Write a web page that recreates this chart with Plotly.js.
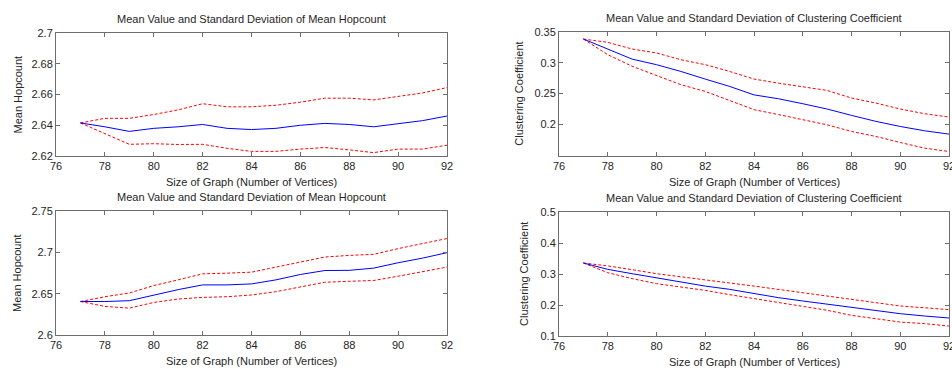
<!DOCTYPE html>
<html>
<head>
<meta charset="utf-8">
<script src="https://cdn.plot.ly/plotly-3.0.1.min.js"></script>
<style>html,body{margin:0;padding:0;background:#fff;} #chart{width:952px;height:369px;}</style>
</head>
<body>
<div id="chart"></div>
<script>
// Graph sizes (number of vertices)
const sizes = [77, 78, 79, 80, 81, 82, 83, 84, 85, 86, 87, 88, 89, 90, 91, 92];

// Panel 1 (top-left): Mean hopcount
const hop1Mean  = [2.6415, 2.639, 2.636, 2.638, 2.639, 2.6405, 2.638, 2.6372, 2.638, 2.640, 2.6412, 2.6405, 2.639, 2.641, 2.643, 2.646];
const hop1Upper = [2.6415, 2.6445, 2.6445, 2.647, 2.650, 2.654, 2.652, 2.652, 2.653, 2.655, 2.6576, 2.6576, 2.6565, 2.659, 2.661, 2.6645];
const hop1Lower = [2.6415, 2.6348, 2.6276, 2.628, 2.6275, 2.6276, 2.625, 2.623, 2.623, 2.6245, 2.6255, 2.624, 2.6222, 2.6245, 2.6245, 2.627];

// Panel 2 (top-right): Clustering coefficient
const cc1Mean  = [0.3386, 0.3224, 0.306, 0.297, 0.286, 0.2736, 0.2617, 0.248, 0.2417, 0.2336, 0.225, 0.2147, 0.205, 0.1967, 0.1897, 0.1843];
const cc1Upper = [0.3386, 0.3332, 0.3224, 0.316, 0.305, 0.297, 0.286, 0.2736, 0.267, 0.2617, 0.2552, 0.2428, 0.2347, 0.225, 0.2174, 0.212];
const cc1Lower = [0.3386, 0.3132, 0.2944, 0.279, 0.2645, 0.2536, 0.239, 0.224, 0.216, 0.2075, 0.1994, 0.1886, 0.1805, 0.1707, 0.1615, 0.1561];

// Panel 3 (bottom-left): Mean hopcount
const hop2Mean  = [2.6405, 2.6405, 2.6415, 2.6484, 2.6549, 2.6606, 2.6606, 2.6618, 2.6667, 2.6732, 2.678, 2.6782, 2.6809, 2.6874, 2.693, 2.6996];
const hop2Upper = [2.6405, 2.6463, 2.6508, 2.6598, 2.6667, 2.674, 2.6748, 2.676, 2.6821, 2.6882, 2.6943, 2.6963, 2.6976, 2.7045, 2.7106, 2.7167];
const hop2Lower = [2.6405, 2.6346, 2.6325, 2.6394, 2.6435, 2.6455, 2.6463, 2.6484, 2.6524, 2.6577, 2.6638, 2.665, 2.6659, 2.6711, 2.6768, 2.6821];

// Panel 4 (bottom-right): Clustering coefficient
const cc2Mean  = [0.3355, 0.315, 0.301, 0.287, 0.274, 0.261, 0.2505, 0.2366, 0.2237, 0.213, 0.2022, 0.1914, 0.1806, 0.172, 0.1645, 0.158];
const cc2Upper = [0.3355, 0.326, 0.314, 0.301, 0.291, 0.280, 0.271, 0.261, 0.2505, 0.2398, 0.228, 0.218, 0.2076, 0.1968, 0.191, 0.185];
const cc2Lower = [0.3355, 0.3043, 0.285, 0.2688, 0.258, 0.2473, 0.2333, 0.2205, 0.2075, 0.1968, 0.183, 0.1667, 0.156, 0.145, 0.1398, 0.132];

// Labels
const panelTitles = [
  "Mean Value and Standard Deviation of Mean Hopcount",
  "Mean Value and Standard Deviation of Clustering Coefficient",
  "Mean Value and Standard Deviation of Mean Hopcount",
  "Mean Value and Standard Deviation of Clustering Coefficient"
];
const xLabel = "Size of Graph (Number of Vertices)";
const yLabels = ["Mean Hopcount", "Clustering Coefficient", "Mean Hopcount", "Clustering Coefficient"];

const W = 952, H = 369;
const px = v => v / W, py = v => 1 - v / H;

const panels = [
  {mean: hop1Mean, up: hop1Upper, lo: hop1Lower, x0: 56, x1: 447, y0: 33, y1: 156, yr: [2.62, 2.70], tv: [2.62, 2.64, 2.66, 2.68, 2.70], tt: ["2.62","2.64","2.66","2.68","2.7"], ytx: 17},
  {mean: cc1Mean, up: cc1Upper, lo: cc1Lower, x0: 559, x1: 949, y0: 32, y1: 155.5, yr: [0.1496, 0.35], tv: [0.2, 0.25, 0.3, 0.35], tt: ["0.2","0.25","0.3","0.35"], ytx: 519},
  {mean: hop2Mean, up: hop2Upper, lo: hop2Lower, x0: 56, x1: 447, y0: 211, y1: 335, yr: [2.6, 2.75], tv: [2.6, 2.65, 2.7, 2.75], tt: ["2.6","2.65","2.7","2.75"], ytx: 17},
  {mean: cc2Mean, up: cc2Upper, lo: cc2Lower, x0: 559, x1: 949, y0: 212, y1: 336, yr: [0.1, 0.5], tv: [0.1, 0.2, 0.3, 0.4, 0.5], tt: ["0.1","0.2","0.3","0.4","0.5"], ytx: 524}
];

const textColor = "#262626";
const axisColor = "#6e6e6e";
const font = {family: "Liberation Sans, Arial, sans-serif", size: 11, color: textColor};

const traces = [];
const layout = {
  width: W, height: H,
  margin: {l: 0, r: 0, t: 0, b: 0},
  paper_bgcolor: "#fff", plot_bgcolor: "#fff",
  showlegend: false,
  font: font,
  annotations: []
};

panels.forEach((p, i) => {
  const n = i + 1;
  const xa = "x" + (n === 1 ? "" : n), ya = "y" + (n === 1 ? "" : n);
  const xk = "xaxis" + (n === 1 ? "" : n), yk = "yaxis" + (n === 1 ? "" : n);
  traces.push({x: sizes, y: p.up, xaxis: xa, yaxis: ya, mode: "lines", line: {color: "#ff0000", width: 1, dash: "3px,2px"}, hoverinfo: "skip"});
  traces.push({x: sizes, y: p.lo, xaxis: xa, yaxis: ya, mode: "lines", line: {color: "#ff0000", width: 1, dash: "3px,2px"}, hoverinfo: "skip"});
  traces.push({x: sizes, y: p.mean, xaxis: xa, yaxis: ya, mode: "lines", line: {color: "#0000ff", width: 1}, hoverinfo: "skip"});
  layout[xk] = {
    domain: [px(p.x0), px(p.x1)], anchor: ya, range: [76, 92],
    tickvals: [76, 78, 80, 82, 84, 86, 88, 90, 92],
    ticks: "inside", ticklen: 4, tickcolor: axisColor, mirror: "ticks",
    showline: true, linecolor: axisColor, linewidth: 1, showgrid: false, zeroline: false,
    tickfont: font, fixedrange: true, ticklabeloverflow: "allow"
  };
  layout[yk] = {
    domain: [py(p.y1), py(p.y0)], anchor: xa, range: p.yr,
    tickvals: p.tv, ticktext: p.tt,
    ticks: "inside", ticklen: 4, tickcolor: axisColor, mirror: "ticks",
    showline: true, linecolor: axisColor, linewidth: 1, showgrid: false, zeroline: false,
    tickfont: font, fixedrange: true, ticklabeloverflow: "allow"
  };
  const cx = (p.x0 + p.x1) / 2;
  layout.annotations.push({text: panelTitles[i], xref: "paper", yref: "paper", x: px(cx), y: py(p.y0 - 14), xanchor: "center", yanchor: "middle", showarrow: false, font: font});
  layout.annotations.push({text: xLabel, xref: "paper", yref: "paper", x: px(cx), y: py(p.y1 + 26), xanchor: "center", yanchor: "middle", showarrow: false, font: font});
  layout.annotations.push({text: yLabels[i], xref: "paper", yref: "paper", x: px(p.ytx), y: py((p.y0 + p.y1) / 2), xanchor: "center", yanchor: "middle", textangle: -90, showarrow: false, font: font});
});

Plotly.newPlot("chart", traces, layout, {staticPlot: true, displayModeBar: false});
</script>
</body>
</html>
